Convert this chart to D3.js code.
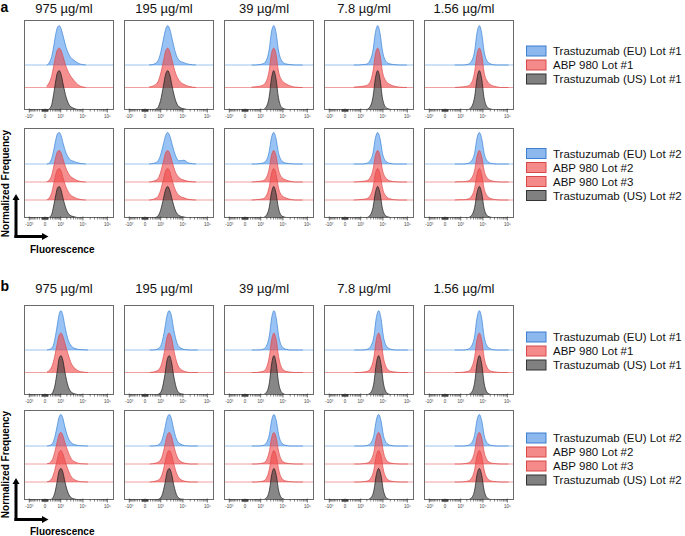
<!DOCTYPE html>
<html><head><meta charset="utf-8">
<script src="https://cdn.jsdelivr.net/npm/d3@7"></script>
<style>body{margin:0;background:#fff}svg{display:block}text{font-family:"Liberation Sans",Arial,sans-serif}</style>
</head><body><svg id="c" width="685" height="536"></svg>
<script>
// ---------------- data ----------------
const concentrations = ["975 µg/ml","195 µg/ml","39 µg/ml","7.8 µg/ml","1.56 µg/ml"];
const tickValues = [-1000, 0, 1000, 10000, 100000];
const tickLabels = ["-10³","0","10³","10⁴","10⁵"];
// histogram bins: offsets (log10 decades) from each column's peak fluorescence
const binOffsets = [-1.2,-0.9,-0.7,-0.5,-0.35,-0.2,-0.1,0,0.1,0.2,0.35,0.5,0.7,0.9,1.2];
const peakLogA = [2.92, 3.34, 3.61, 3.78, 3.85];
const peakLogB = [3.01, 3.41, 3.62, 3.82, 3.85];

const legendRow1A = ["Trastuzumab (EU) Lot #1","ABP 980 Lot #1","Trastuzumab (US) Lot #1"];
const legendRow2A = ["Trastuzumab (EU) Lot #2","ABP 980 Lot #2","ABP 980 Lot #3","Trastuzumab (US) Lot #2"];
const legendRow1B = ["Trastuzumab (EU) Lot #1","ABP 980 Lot #1","Trastuzumab (US) Lot #1"];
const legendRow2B = ["Trastuzumab (EU) Lot #2","ABP 980 Lot #2","ABP 980 Lot #3","Trastuzumab (US) Lot #2"];
const kindsRow1 = ["eu","abp","us"];
const kindsRow2 = ["eu","abp","abp","us"];

// normalized frequency (% of mode), one array per concentration column
const aEU1  = [[0,2,8,22,46,80,96,100,92,74,44,24,12,4,0],[0,1,3,10,30,66,90,100,90,66,30,12,6,2,0],[0,0,1,3,10,40,84,100,82,38,10,3,1,0,0],[0,0,1,2,10,38,82,100,80,36,9,3,1,0,0],[0,0,0,2,9,36,82,100,80,34,8,2,0,0,0]];
const aABP1 = [[3,8,15,30,54,82,96,100,94,78,52,34,18,6,0],[1,3,6,14,34,68,92,100,90,68,36,18,8,3,0],[1,2,3,6,14,44,86,100,84,42,18,10,4,1,0],[1,2,3,5,12,42,84,100,82,40,16,8,3,1,0],[0,1,2,4,11,40,84,100,82,38,14,6,2,0,0]];
const aUS1  = [[0,1,4,14,40,76,95,100,90,66,32,12,4,1,0],[0,0,1,6,24,62,90,100,88,60,24,8,3,1,0],[0,0,0,1,7,34,80,100,78,32,6,2,0,0,0],[0,0,0,1,7,34,80,100,78,30,6,2,0,0,0],[0,0,0,1,7,34,80,100,78,30,6,2,0,0,0]];
const aEU2  = [[0,1,5,18,42,78,96,100,90,66,34,16,8,3,0],[0,1,3,9,28,64,90,100,88,62,26,10,12,3,0],[0,0,1,3,10,40,84,100,80,36,10,3,1,0,0],[0,0,0,2,9,36,82,100,80,34,8,2,0,0,0],[0,0,0,2,9,36,82,100,80,34,8,2,0,0,0]];
const aABP2 = [[1,3,8,22,48,80,96,100,92,72,42,22,10,3,0],[0,1,4,10,30,66,92,100,90,64,30,14,6,2,0],[0,1,2,4,12,42,84,100,82,40,14,7,2,0,0],[0,1,2,4,12,40,84,100,82,38,12,4,1,0,0],[0,1,1,3,11,38,82,100,80,36,11,4,1,0,0]];
const aABP3 = [[1,3,9,24,50,82,96,100,92,70,40,20,9,3,0],[0,1,4,11,30,66,92,100,90,63,30,14,7,2,0],[0,1,2,4,12,42,84,100,82,40,14,7,2,0,0],[0,1,2,4,12,40,84,100,82,38,12,4,1,0,0],[0,1,1,3,11,38,82,100,80,36,11,4,1,0,0]];
const aUS2  = [[0,1,3,12,38,74,95,100,88,62,28,10,4,1,0],[0,0,1,6,24,62,90,100,86,58,22,8,3,1,0],[0,0,0,1,7,34,80,100,78,32,6,2,0,0,0],[0,0,0,1,7,34,80,100,78,30,6,2,0,0,0],[0,0,0,1,7,34,80,100,78,30,6,2,0,0,0]];

const bEU1  = [[0,1,3,9,28,64,90,100,88,60,26,10,3,1,0],[0,0,1,5,18,56,88,100,86,52,16,5,1,0,0],[0,0,0,2,9,38,82,100,80,36,8,2,0,0,0],[0,0,0,2,9,36,82,100,80,34,8,2,0,0,0],[0,0,0,2,9,36,82,100,80,34,8,2,0,0,0]];
const bABP1 = [[2,4,9,22,44,74,94,100,92,74,46,22,8,2,0],[0,1,3,8,24,60,90,100,88,58,22,8,2,0,0],[0,0,1,3,11,42,84,100,82,40,10,3,1,0,0],[0,0,1,3,11,40,84,100,82,38,10,3,1,0,0],[0,0,1,3,11,40,84,100,82,38,10,3,1,0,0]];
const bUS1  = [[0,0,1,7,24,62,92,100,88,58,22,7,2,0,0],[0,0,0,3,14,52,88,100,84,48,12,3,1,0,0],[0,0,0,1,6,32,80,100,78,30,5,1,0,0,0],[0,0,0,1,6,32,80,100,78,30,5,1,0,0,0],[0,0,0,1,6,32,80,100,78,30,5,1,0,0,0]];
const bEU2  = [[0,1,3,10,30,66,91,100,88,60,26,10,3,1,0],[0,0,1,5,18,56,88,100,86,52,16,6,1,0,0],[0,0,0,2,9,38,82,100,80,36,8,2,0,0,0],[0,0,0,2,9,36,82,100,80,34,8,2,0,0,0],[0,0,0,2,9,36,82,100,80,34,8,2,0,0,0]];
const bABP2 = [[1,2,6,18,40,72,94,100,90,68,38,16,5,1,0],[0,1,3,8,22,60,90,100,88,58,22,8,2,0,0],[0,0,1,3,11,42,84,100,82,40,10,3,1,0,0],[0,0,1,3,11,40,84,100,82,38,10,3,1,0,0],[0,0,1,3,11,40,84,100,82,38,10,3,1,0,0]];
const bABP3 = [[1,2,6,18,40,72,94,100,90,68,38,16,5,1,0],[0,1,3,8,22,60,90,100,88,58,22,8,2,0,0],[0,0,1,3,11,42,84,100,82,40,10,3,1,0,0],[0,0,1,3,11,40,84,100,82,38,10,3,1,0,0],[0,0,1,3,11,40,84,100,82,38,10,3,1,0,0]];
const bUS2  = [[0,0,1,7,24,62,92,100,88,58,22,7,2,0,0],[0,0,0,3,14,52,88,100,84,48,12,3,1,0,0],[0,0,0,1,6,32,80,100,78,30,5,1,0,0,0],[0,0,0,1,6,32,80,100,78,30,5,1,0,0,0],[0,0,0,1,6,32,80,100,78,30,5,1,0,0,0]];

// ---------------- styles ----------------
const style = {
  eu:  {fill:"rgba(70,145,235,0.55)", stroke:"#3b82d6", base:"#9dc6ef", swFill:"#8cb8ee", swStroke:"#3c7fd0"},
  abp: {fill:"rgba(240,70,70,0.6)",  stroke:"#dd4a4a", base:"#f0a0a0", swFill:"#f58a8a", swStroke:"#d84848"},
  us:  {fill:"rgba(55,55,55,0.6)",   stroke:"#1a1a1a", base:"#888",    swFill:"#808080", swStroke:"#333"}
};
const panelW = 90, panelH = 90, colStep = 100, left0 = 24;

const svg = d3.select("#c");
const defs = svg.append("defs");

const sections = [
  {label:"a", labelY:12, titleY:12.5,
   rows:[{top:20, series:[aEU1,aABP1,aUS1], kinds:kindsRow1, legend:legendRow1A, legOff:0},
         {top:128, series:[aEU2,aABP2,aABP3,aUS2], kinds:kindsRow2, legend:legendRow2A, legOff:1.5}],
   peaks:peakLogA, arrowCornerY:236.5, arrowTopY:194, freqCenterY:183.5, fluorY:253},
  {label:"b", labelY:291, titleY:293,
   rows:[{top:305, series:[bEU1,bABP1,bUS1], kinds:kindsRow1, legend:legendRow1B, legOff:1},
         {top:410, series:[bEU2,bABP2,bABP3,bUS2], kinds:kindsRow2, legend:legendRow2B, legOff:4}],
   peaks:peakLogB, arrowCornerY:519.5, arrowTopY:478, freqCenterY:464.5, fluorY:535}
];

// minor tick values
const minorTicks = [];
[10,100,1000,10000].forEach(d => { for (let m=1;m<=9;m++){ const v=m*d; if (d>=1000 && m===1) continue; minorTicks.push(v); if (d<1000) minorTicks.push(-v);} });

let clipId = 0;
sections.forEach(sec => {
  svg.append("text").attr("x",0.5).attr("y",sec.labelY).attr("font-size",14).attr("font-weight","bold").text(sec.label);
  concentrations.forEach((c,ci) => {
    svg.append("text").attr("x", left0 + ci*colStep + panelW/2 - 5).attr("y", sec.titleY)
      .attr("text-anchor","middle").attr("font-size",13).attr("fill","#111").text(c);
  });
  sec.rows.forEach(row => {
    const n = row.series.length;
    const spacing = panelH/(n+1);
    const y = d3.scaleLinear().domain([0,100]).range([0, spacing*1.75]);
    concentrations.forEach((c,ci) => {
      const x0 = left0 + ci*colStep;
      const x = d3.scaleSymlog().constant(300).domain([-1824,186000]).range([x0, x0+panelW]);
      const bottom = row.top + panelH;
      const id = "clip"+(clipId++);
      defs.append("clipPath").attr("id",id).append("rect").attr("x",x0).attr("y",row.top).attr("width",panelW).attr("height",panelH);
      const g = svg.append("g").attr("clip-path",`url(#${id})`);
      row.series.forEach((ser,si) => {
        const k = row.kinds[si];
        const base = bottom - (n-1-si)*spacing;
        const pts = binOffsets.map((o,i)=>[Math.pow(10, sec.peaks[ci]+o), ser[ci][i]]);
        if (si < n-1) {
          g.append("line").attr("x1",x0).attr("x2",x0+panelW).attr("y1",base).attr("y2",base)
            .attr("stroke",style[k].base).attr("stroke-width",1);
        }
        const area = d3.area().x(d=>x(d[0])).y0(base).y1(d=>base - y(d[1])).curve(d3.curveMonotoneX);
        const line = d3.line().x(d=>x(d[0])).y(d=>base - y(d[1])).curve(d3.curveMonotoneX);
        g.append("path").attr("d",area(pts)).attr("fill",style[k].fill);
        g.append("path").attr("d",line(pts)).attr("fill","none").attr("stroke",style[k].stroke).attr("stroke-width",0.7);
      });
      // box
      svg.append("rect").attr("x",x0+0.5).attr("y",row.top+0.5).attr("width",panelW-1).attr("height",panelH-1)
        .attr("fill","none").attr("stroke","#6a6a6a").attr("stroke-width",1);
      // ticks
      const axisG = svg.append("g").attr("transform",`translate(0,${bottom})`);
      minorTicks.forEach(v => {
        const px = x(v);
        axisG.append("line").attr("x1",px).attr("x2",px).attr("y1",-1).attr("y2",1.5).attr("stroke","#333").attr("stroke-width",0.6);
      });
      tickValues.forEach((v,ti) => {
        const px = x(v);
        axisG.append("line").attr("x1",px).attr("x2",px).attr("y1",-1.5).attr("y2",2.5).attr("stroke","#333").attr("stroke-width",0.7);
        axisG.append("text").attr("x",px).attr("y",7.5).attr("text-anchor","middle").attr("font-size",4.5).attr("fill","#444").text(tickLabels[ti]);
      });
    });
    // legend
    const cy = row.top + panelH/2 + row.legOff;
    const ly0 = cy - (n-1)*14/2;
    row.legend.forEach((t,li) => {
      const k = row.kinds[li];
      const yy = ly0 + li*14;
      svg.append("rect").attr("x",526.5).attr("y",yy-5).attr("width",19.5).attr("height",10)
        .attr("fill",style[k].swFill).attr("stroke",style[k].swStroke).attr("stroke-width",1);
      svg.append("text").attr("x",553).attr("y",yy+4.2).attr("font-size",11.5).attr("fill","#111").text(t);
    });
  });
  // axis arrows
  const ag = svg.append("g").attr("fill","#000").attr("stroke","#000");
  ag.append("line").attr("x1",16).attr("x2",16).attr("y1",sec.arrowCornerY+1.5).attr("y2",sec.arrowTopY+5).attr("stroke-width",3);
  ag.append("path").attr("d",`M${16-3.5},${sec.arrowTopY+6}L16,${sec.arrowTopY}L${16+3.5},${sec.arrowTopY+6}Z`).attr("stroke","none");
  ag.append("line").attr("x1",14.5).attr("x2",43).attr("y1",sec.arrowCornerY).attr("y2",sec.arrowCornerY).attr("stroke-width",3);
  ag.append("path").attr("d",`M42,${sec.arrowCornerY-3.5}L48.5,${sec.arrowCornerY}L42,${sec.arrowCornerY+3.5}Z`).attr("stroke","none");
  svg.append("text").attr("transform",`translate(9,${sec.freqCenterY}) rotate(-90)`).attr("text-anchor","middle")
    .attr("font-size",10).attr("font-weight","bold").text("Normalized Frequency");
  svg.append("text").attr("x",30).attr("y",sec.fluorY).attr("font-size",10).attr("font-weight","bold").text("Fluorescence");
});
</script></body></html>
